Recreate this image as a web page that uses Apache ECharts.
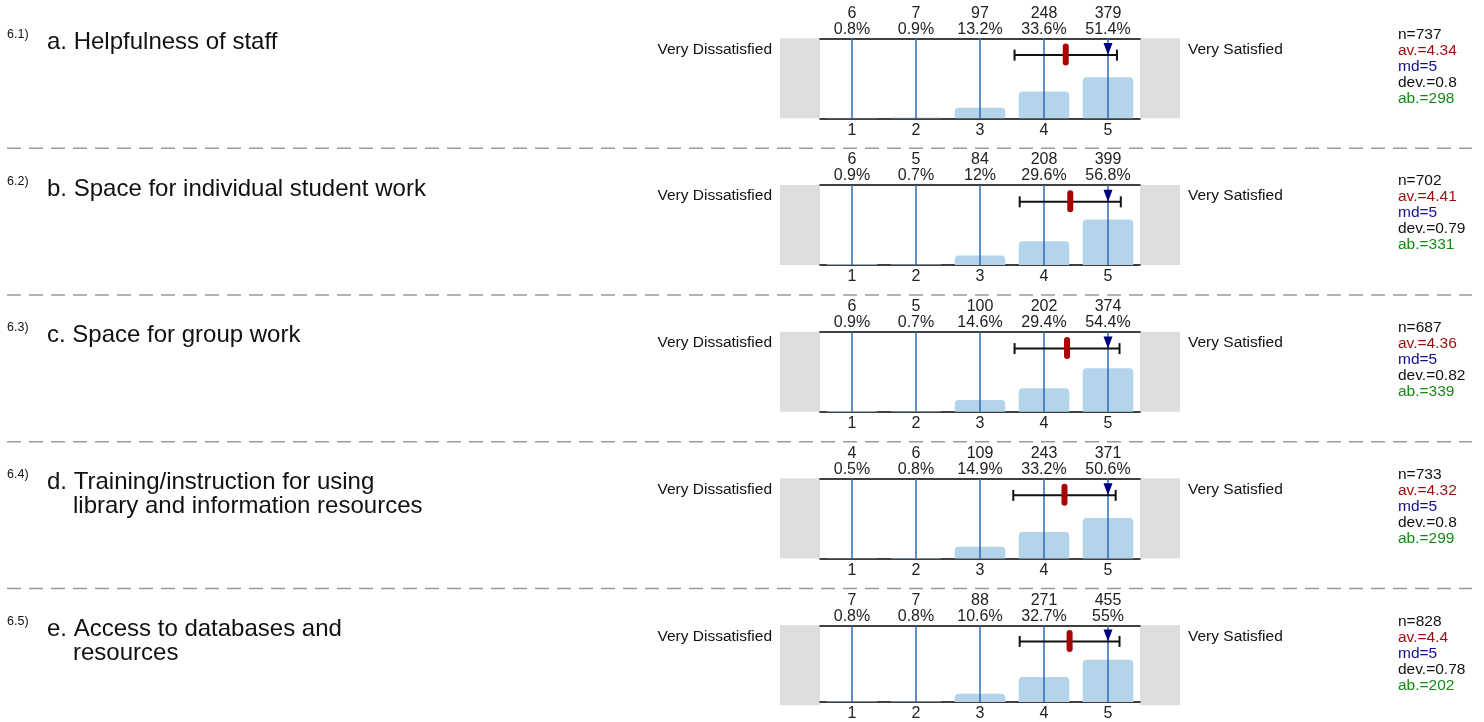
<!DOCTYPE html>
<html>
<head>
<meta charset="utf-8">
<script src="https://cdn.jsdelivr.net/npm/echarts@6/dist/echarts.min.js"></script>
<style>
html,body{margin:0;padding:0;background:#fff;}
#chart{width:1484px;height:722px;}
</style>
</head>
<body>
<div id="chart"></div>
<script>
// ---------------- DATA ----------------
const prefixes = ['6.1)', '6.2)', '6.3)', '6.4)', '6.5)'];
const itemTitles = [
  ['a. Helpfulness of staff'],
  ['b. Space for individual student work'],
  ['c. Space for group work'],
  ['d. Training/instruction for using', 'library and information resources'],
  ['e. Access to databases and', 'resources']
];
const scaleLabels = ['1', '2', '3', '4', '5'];
const leftLabel = 'Very Dissatisfied';
const rightLabel = 'Very Satisfied';
const counts = [
  [6, 7, 97, 248, 379],
  [6, 5, 84, 208, 399],
  [6, 5, 100, 202, 374],
  [4, 6, 109, 243, 371],
  [7, 7, 88, 271, 455]
];
const percents = [
  [0.8, 0.9, 13.2, 33.6, 51.4],
  [0.9, 0.7, 12, 29.6, 56.8],
  [0.9, 0.7, 14.6, 29.4, 54.4],
  [0.5, 0.8, 14.9, 33.2, 50.6],
  [0.8, 0.8, 10.6, 32.7, 55]
];
const nValues = [737, 702, 687, 733, 828];
const means = [4.34, 4.41, 4.36, 4.32, 4.4];
const medians = [5, 5, 5, 5, 5];
const devs = [0.8, 0.79, 0.82, 0.8, 0.78];
const abstentions = [298, 331, 339, 299, 202];

// ---------------- LAYOUT / STYLE ----------------
const FONT = '"Liberation Sans", Arial, Helvetica, sans-serif';
const GRID_LEFT = 820, GRID_W = 320, GRID_H = 80;
const TOP0 = 38.3, STEP = 146.75;
const ERR_Y = 79; // level (in % of plot) where the error bar is drawn
const BAR_COLOR = '#b4d4eb';
const VLINE_COLOR = '#2a6db5';

const chart = echarts.init(document.getElementById('chart'), null, {renderer: 'canvas'});

const grids = [], xAxes = [], yAxes = [], series = [], graphics = [];

function txt(x, y, text, size, color, align) {
  return {
    type: 'text', x: x, y: y, silent: true, z: 10,
    style: {
      text: text, fill: color, font: size + 'px ' + FONT,
      textAlign: align || 'left', align: align || 'left',
      textVerticalAlign: 'middle', verticalAlign: 'middle'
    }
  };
}

for (let i = 0; i < prefixes.length; i++) {
  const t = TOP0 + i * STEP;
  grids.push({left: GRID_LEFT, top: t, width: GRID_W, height: GRID_H, containLabel: false});
  const cnt = counts[i], pct = percents[i];
  // bottom category axis
  xAxes.push({
    type: 'category', gridIndex: i, position: 'bottom', data: scaleLabels,
    axisLine: {show: true, lineStyle: {color: '#000', width: 1.5}},
    axisTick: {show: false}, splitLine: {show: false},
    axisLabel: {interval: 0, margin: 4, fontSize: 16, lineHeight: 16, color: '#222', fontFamily: FONT}
  });
  // top category axis with counts and percentages
  xAxes.push({
    type: 'category', gridIndex: i, position: 'top', data: scaleLabels,
    axisLine: {show: true, lineStyle: {color: '#000', width: 1.5}},
    axisTick: {show: false}, splitLine: {show: false},
    axisLabel: {
      interval: 0, margin: 1, fontSize: 16, lineHeight: 16, color: '#222', fontFamily: FONT,
      formatter: function (v, idx) { return cnt[idx] + '\n' + pct[idx] + '%'; }
    }
  });
  // hidden value axis for vertical lines and error bar
  xAxes.push({type: 'value', gridIndex: i, min: 0.5, max: 5.5, show: false});
  yAxes.push({type: 'value', gridIndex: i, min: 0, max: 100, show: false});

  series.push({
    type: 'bar', xAxisIndex: 3 * i, yAxisIndex: i, data: pct, barWidth: '79%',
    itemStyle: {color: BAR_COLOR, borderRadius: [4, 4, 0, 0]}, silent: true, z: 2,
    animation: false
  });
  series.push({
    type: 'custom', xAxisIndex: 3 * i + 2, yAxisIndex: i, z: 3, silent: true, animation: false,
    data: scaleLabels.map(function (s) { return [Number(s), 0]; }),
    encode: {x: 0, y: 1},
    renderItem: function (params, api) {
      const a = api.coord([api.value(0), 0]);
      const b = api.coord([api.value(0), 100]);
      return {type: 'line', shape: {x1: a[0], y1: a[1], x2: b[0], y2: b[1]},
        style: {stroke: VLINE_COLOR, lineWidth: 1.5}};
    }
  });
  series.push({
    type: 'custom', xAxisIndex: 3 * i + 2, yAxisIndex: i, z: 4, silent: true, animation: false,
    data: [[means[i], ERR_Y, devs[i], medians[i]]],
    encode: {x: 0, y: 1},
    renderItem: function (params, api) {
      const m = api.value(0), yv = api.value(1), d = api.value(2), md = api.value(3);
      const pL = api.coord([m - d, yv]), pR = api.coord([m + d, yv]);
      const pM = api.coord([m, yv]), pD = api.coord([md, yv]);
      return {type: 'group', children: [
        {type: 'line', shape: {x1: pL[0], y1: pL[1], x2: pR[0], y2: pR[1]}, style: {stroke: '#111', lineWidth: 2}},
        {type: 'line', shape: {x1: pL[0], y1: pL[1] - 5.5, x2: pL[0], y2: pL[1] + 5.5}, style: {stroke: '#111', lineWidth: 2}},
        {type: 'line', shape: {x1: pR[0], y1: pR[1] - 5.5, x2: pR[0], y2: pR[1] + 5.5}, style: {stroke: '#111', lineWidth: 2}},
        {type: 'polygon', shape: {points: [[pD[0] - 4.5, pD[1] - 12], [pD[0] + 4.5, pD[1] - 12], [pD[0], pD[1]]]}, style: {fill: '#000080'}},
        {type: 'rect', shape: {x: pM[0] - 3, y: pM[1] - 11.5, width: 6, height: 22, r: 3}, style: {fill: '#aa0000'}}
      ]};
    }
  });

  // gray side boxes
  graphics.push({type: 'rect', silent: true, z: 0, shape: {x: GRID_LEFT - 40, y: t, width: 40, height: GRID_H}, style: {fill: '#dddddd'}});
  graphics.push({type: 'rect', silent: true, z: 0, shape: {x: GRID_LEFT + GRID_W, y: t, width: 40, height: GRID_H}, style: {fill: '#dddddd'}});
  // side labels
  graphics.push(txt(772, t + 11, leftLabel, 15.5, '#111', 'right'));
  graphics.push(txt(1188, t + 11, rightLabel, 15.5, '#111', 'left'));
  // prefix and title
  graphics.push(txt(7, t - 4, prefixes[i], 12.5, '#111', 'left'));
  itemTitles[i].forEach(function (line, k) {
    graphics.push(txt(k === 0 ? 47 : 73, t + 4 + k * 24, line, 24, '#111', 'left'));
  });
  // stats
  const stats = [
    ['n=' + nValues[i], '#111'],
    ['av.=' + means[i], '#9b0d0d'],
    ['md=' + medians[i], '#10108f'],
    ['dev.=' + devs[i], '#111'],
    ['ab.=' + abstentions[i], '#138a13']
  ];
  stats.forEach(function (s, k) {
    graphics.push(txt(1398, t - 4 + k * 16, s[0], 15.5, s[1], 'left'));
  });
  // dashed separator
  if (i < prefixes.length - 1) {
    graphics.push({type: 'line', silent: true, z: 0,
      shape: {x1: 7, y1: t + 110, x2: 1472, y2: t + 110},
      style: {stroke: '#9a9a9a', lineWidth: 1.5, lineDash: [14, 8]}});
  }
}

chart.setOption({
  animation: false,
  backgroundColor: '#ffffff',
  textStyle: {fontFamily: FONT},
  grid: grids,
  xAxis: xAxes,
  yAxis: yAxes,
  series: series,
  graphic: {elements: graphics}
});
</script>
</body>
</html>
